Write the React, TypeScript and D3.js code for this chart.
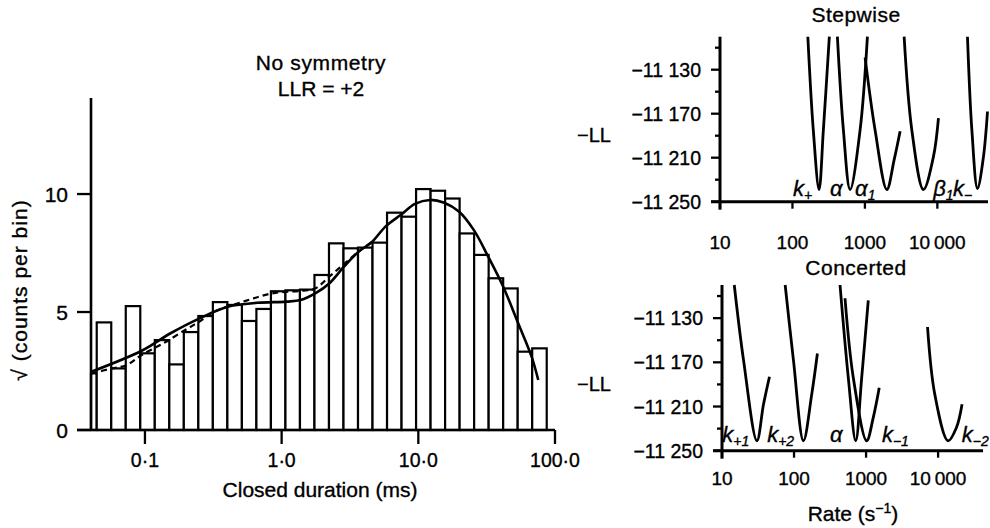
import React from 'react';
import * as d3 from 'd3';

const W = 990;
const H = 528;
const FONT = "'Liberation Sans', Arial, Helvetica, sans-serif";
const TS = { stroke: '#000', strokeWidth: 0.35 } as const; // scan-like text weight

// ---------- Left panel: closed-time histogram ----------
const histXTickValues = [0.1, 1, 10, 100];
const histXTickLabels = ['0·1', '1·0', '10·0', '100·0'];
const histYTickValues = [0, 5, 10];
const histYTickLabels = ['0', '5', '10'];
const binLogStart = -1.459; // log10(ms) of the first bin's left edge
const binLogWidth = 0.1062; // bin width in log10 units
const binHeights = [
  2.4, 4.56, 2.61, 5.25, 3.25, 3.81, 2.78, 4.15, 4.83, 5.42, 5.3, 4.62, 5.13, 5.88, 5.92, 5.95,
  6.57, 7.91, 7.7, 7.73, 7.94, 9.21, 9.04, 10.21, 10.14, 9.81, 8.33, 7.42, 6.43, 6.0, 3.32, 3.46,
];
const solidFit: [number, number][] = [
  [0.0405, 2.47], [0.0946, 3.36], [0.154, 4.1], [0.249, 4.72], [0.409, 5.23], [0.663, 5.39],
  [1.088, 5.44], [1.377, 5.51], [1.761, 5.79], [2.229, 6.21], [2.855, 6.92], [3.66, 7.56],
  [4.58, 7.97], [5.79, 8.64], [7.42, 9.11], [9.44, 9.58], [12.16, 9.75], [15.47, 9.63],
  [19.9, 9.25], [25.5, 8.47], [32.5, 7.34], [41.8, 6.07], [53.8, 4.52], [67.4, 3.11], [75.4, 2.12],
];
const dashedFit: [number, number][] = [
  [0.0405, 2.4], [0.0577, 2.61], [0.0735, 2.75], [0.0946, 3.18], [0.136, 3.67], [0.197, 4.24],
  [0.249, 4.59], [0.32, 5.01], [0.524, 5.44], [0.85, 5.79], [1.377, 5.9], [1.761, 6.0],
  [2.229, 6.5], [2.855, 7.03], [3.66, 7.56], [4.58, 7.97],
];

// ---------- Right panels: likelihood profiles ----------
const rateTickValues = [10, 100, 1000, 10000];
const rateTickLabels = ['10', '100', '1000', '10\u2009000'];
const llTickValues = [-11250, -11230, -11210, -11190, -11170, -11150, -11130, -11110];
const llLabelValues = [-11250, -11210, -11170, -11130];
const llLabelTexts = ['\u221211 250', '\u221211 210', '\u221211 170', '\u221211 130'];

const stepKPlus: [number, number][] = [[163, -11100], [194, -11185], [233, -11239], [267, -11185], [323, -11100]];
const stepAlpha: [number, number][] = [[417, -11100], [505, -11185], [625, -11239], [858, -11185], [1083, -11100]];
const stepAlpha1: [number, number][] = [[1006, -11119], [1383, -11185], [2007, -11239], [2532, -11212], [3063, -11186]];
const stepBeta1: [number, number][] = [[3478, -11100], [4444, -11185], [6427, -11239], [8833, -11209], [10356, -11174]];
const stepKMinus: [number, number][] = [[26040, -11100], [29960, -11185], [35800, -11238], [43320, -11209], [49200, -11168]];

const concKPlus1: [number, number][] = [[14.8, -11100], [19.9, -11168], [30.5, -11241], [37.7, -11208], [45.6, -11183]];
const concKPlus2: [number, number][] = [[75.3, -11100], [98.1, -11168], [135, -11241], [176, -11199], [211, -11162]];
const concAlpha: [number, number][] = [[435, -11100], [567, -11184], [718, -11241], [869, -11184], [1073, -11114]];
const concKMinus1: [number, number][] = [[510, -11112], [665, -11184], [1019, -11241], [1258, -11220], [1523, -11193]];
const concKMinus2: [number, number][] = [[7132, -11138], [9000, -11199], [13755, -11241], [17980, -11229], [21500, -11208]];

type Lbl = { main: string; sub: string; rate: number };
const stepLabels: Lbl[] = [
  { main: 'k', sub: '+', rate: 102 },
  { main: 'α', sub: '', rate: 330 },
  { main: 'α', sub: '1', rate: 732 },
  { main: 'β', sub: '1', rate: 8750 },
  { main: 'k', sub: '\u2212', rate: 16500 },
];
const concLabels: Lbl[] = [
  { main: 'k', sub: '+1', rate: 10.1 },
  { main: 'k', sub: '+2', rate: 42.4 },
  { main: 'α', sub: '', rate: 316 },
  { main: 'k', sub: '\u22121', rate: 1660 },
  { main: 'k', sub: '\u22122', rate: 21300 },
];

const stepCurves = [stepKPlus, stepAlpha, stepAlpha1, stepBeta1, stepKMinus];
const concCurves = [concKPlus1, concKPlus2, concAlpha, concKMinus1, concKMinus2];

function RatePanel(props: {
  x0: number; x1: number; xMax: number; yBottom: number; yTop: number;
  curves: [number, number][][]; labels: Lbl[]; labelY: number; tickLabelY: number;
  title: string; titleY: number; llY: number;
}) {
  const { x0, x1, xMax, yBottom, yTop, curves, labels, labelY, tickLabelY, title, titleY, llY } = props;
  const x = d3.scaleLog().domain([10, xMax]).range([x0, x1]);
  const y = d3.scaleLinear().domain([-11250, -11100]).range([yBottom, yTop]);
  const line = d3
    .line<[number, number]>()
    .x((d) => x(d[0]))
    .y((d) => y(d[1]))
    .curve(d3.curveCatmullRom.alpha(0.5));
  return (
    <g>
      <text x={856} y={titleY} textAnchor="middle" fontSize={21} letterSpacing={0.5} fontFamily={FONT} {...TS}>{title}</text>
      <text x={611} y={llY} textAnchor="end" fontSize={20} fontFamily={FONT} dy="0.35em" {...TS}>{'\u2212LL'}</text>
      {/* y axis */}
      <line x1={x0} x2={x0} y1={yTop} y2={yBottom + 8} stroke="#000" strokeWidth={3} />
      {llTickValues.map((v) => {
        const major = llLabelValues.includes(v);
        return (
          <line key={v} x1={x0 - (major ? 9 : 5)} x2={x0} y1={y(v)} y2={y(v)} stroke="#000" strokeWidth={2.3} />
        );
      })}
      {llLabelValues.map((v, i) => (
        <text key={v} x={x0 - 19} y={y(v)} dy="0.36em" textAnchor="end" fontSize={19.5} fontFamily={FONT} {...TS}>
          {llLabelTexts[i]}
        </text>
      ))}
      {/* x axis */}
      <line x1={x0 - 9} x2={x1} y1={yBottom} y2={yBottom} stroke="#000" strokeWidth={3} />
      {rateTickValues.map((v, i) => (
        <g key={v}>
          <line x1={x(v)} x2={x(v)} y1={yBottom} y2={yBottom + 7} stroke="#000" strokeWidth={2.3} />
          <text x={x(v)} y={tickLabelY} textAnchor="middle" fontSize={19} fontFamily={FONT} {...TS}>
            {rateTickLabels[i]}
          </text>
        </g>
      ))}
      {curves.map((c, i) => (
        <path key={i} d={line(c) || ''} fill="none" stroke="#000" strokeWidth={2.8} strokeLinejoin="round" />
      ))}
      {labels.map((l, i) => (
        <text key={i} x={x(l.rate)} y={labelY} fontSize={22} fontStyle="italic" fontFamily={FONT} {...TS}>
          {l.main}
          {l.sub ? (
            <tspan fontSize={14} dy={4}>{l.sub}</tspan>
          ) : null}
        </text>
      ))}
    </g>
  );
}

export default function App() {
  // left histogram scales
  const xH = d3.scaleLog().domain([0.0403, 100]).range([91, 555]);
  const yH = d3.scaleLinear().domain([0, 14.07]).range([430, 98]);
  const fitLine = d3
    .line<[number, number]>()
    .x((d) => xH(d[0]))
    .y((d) => yH(d[1]))
    .curve(d3.curveCatmullRom.alpha(0.5));
  const dmin = xH.domain()[0];

  return (
    <svg
      width={W}
      height={H}
      viewBox={`0 0 ${W} ${H}`}
      style={{ position: 'absolute', left: 0, top: 0, background: '#fff' }}
    >
      <rect x={0} y={0} width={W} height={H} fill="#fff" />
      {/* ---- left panel ---- */}
      <text x={321} y={70} textAnchor="middle" fontSize={21} letterSpacing={0.6} fontFamily={FONT} {...TS}>No symmetry</text>
      <text x={321} y={96} textAnchor="middle" fontSize={21} fontFamily={FONT} {...TS}>LLR = +2</text>
      {binHeights.map((h, i) => {
        const l = Math.max(Math.pow(10, binLogStart + i * binLogWidth), dmin);
        const r = Math.pow(10, binLogStart + (i + 1) * binLogWidth);
        return (
          <rect
            key={i}
            x={xH(l)}
            y={yH(h)}
            width={xH(r) - xH(l)}
            height={yH(0) - yH(h)}
            fill="#fff"
            stroke="#000"
            strokeWidth={2.2}
          />
        );
      })}
      <path d={fitLine(dashedFit) || ''} fill="none" stroke="#000" strokeWidth={2.2} strokeDasharray="6 4" />
      <path d={fitLine(solidFit) || ''} fill="none" stroke="#000" strokeWidth={2.6} />
      {/* axes */}
      <line x1={91} x2={91} y1={yH(14.07)} y2={yH(0)} stroke="#000" strokeWidth={2.6} />
      <line x1={77} x2={555} y1={yH(0)} y2={yH(0)} stroke="#000" strokeWidth={2.6} />
      {histYTickValues.map((v, i) => (
        <g key={v}>
          <line x1={77} x2={91} y1={yH(v)} y2={yH(v)} stroke="#000" strokeWidth={2.3} />
          <text x={68} y={yH(v)} dy="0.36em" textAnchor="end" fontSize={21} fontFamily={FONT} {...TS}>
            {histYTickLabels[i]}
          </text>
        </g>
      ))}
      {histXTickValues.map((v, i) => (
        <g key={v}>
          <line x1={xH(v)} x2={xH(v)} y1={430} y2={444} stroke="#000" strokeWidth={2.3} />
          <text x={xH(v)} y={467} textAnchor="middle" fontSize={19.5} fontFamily={FONT} {...TS}>
            {histXTickLabels[i]}
          </text>
        </g>
      ))}
      <text x={320} y={497} textAnchor="middle" fontSize={21} fontFamily={FONT} {...TS}>Closed duration (ms)</text>
      <text
        transform="translate(27,290) rotate(-90)"
        textAnchor="middle"
        fontSize={21}
        letterSpacing={1}
        fontFamily={FONT}
        {...TS}
      >
        √ (counts per bin)
      </text>

      {/* ---- right panels ---- */}
      <RatePanel
        x0={720}
        x1={988}
        xMax={50000}
        yBottom={201.7}
        yTop={36.7}
        curves={stepCurves}
        labels={stepLabels}
        labelY={196}
        tickLabelY={249}
        title="Stepwise"
        titleY={22}
        llY={135}
      />
      <RatePanel
        x0={722}
        x1={983}
        xMax={42000}
        yBottom={450.7}
        yTop={285}
        curves={concCurves}
        labels={concLabels}
        labelY={442}
        tickLabelY={485}
        title="Concerted"
        titleY={275}
        llY={384}
      />
      <text x={853} y={521} textAnchor="middle" fontSize={21} fontFamily={FONT} {...TS}>
        Rate (s
        <tspan fontSize={14} dy={-8}>{'\u22121'}</tspan>
        <tspan dy={8}>)</tspan>
      </text>
    </svg>
  );
}
